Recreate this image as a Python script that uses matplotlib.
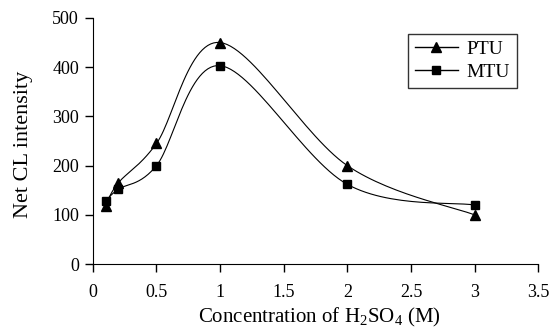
import numpy as np
import matplotlib
matplotlib.use("Agg")
import matplotlib.pyplot as plt
from matplotlib.lines import Line2D

plt.rcParams['font.family'] = ['Liberation Serif', 'DejaVu Serif']
plt.rcParams['mathtext.fontset'] = 'custom'
plt.rcParams['mathtext.rm'] = 'Liberation Serif'

conc = [0.1, 0.2, 0.5, 1.0, 2.0, 3.0]
ptu = [119, 165, 245, 450, 200, 100]
mtu = [128, 152, 200, 403, 162, 120]


def smooth(x, y, n=30):
    # excel-style smoothed line (catmull-rom bezier)
    x = np.asarray(x, float)
    y = np.asarray(y, float)
    px = np.concatenate([[x[0]], x, [x[-1]]])
    py = np.concatenate([[y[0]], y, [y[-1]]])
    xs, ys = [], []
    t = np.linspace(0, 1, n)
    for i in range(1, len(px) - 2):
        p0 = np.array([px[i], py[i]])
        p3 = np.array([px[i + 1], py[i + 1]])
        c1 = p0 + (np.array([px[i + 1], py[i + 1]]) - np.array([px[i - 1], py[i - 1]])) / 6
        c2 = p3 - (np.array([px[i + 2], py[i + 2]]) - np.array([px[i], py[i]])) / 6
        b = ((1 - t) ** 3)[:, None] * p0 + (3 * (1 - t) ** 2 * t)[:, None] * c1 \
            + (3 * (1 - t) * t ** 2)[:, None] * c2 + (t ** 3)[:, None] * p3
        xs.extend(b[:, 0])
        ys.extend(b[:, 1])
    return xs, ys


fig = plt.figure(figsize=(5.56, 3.31), dpi=100)
ax = fig.add_axes([0.167, 0.202, 0.801, 0.744])

sx, sy = smooth(conc, ptu)
ax.plot(sx, sy, color='black', lw=0.8)
ax.plot(conc, ptu, ls='none', marker='^', color='black', ms=7)
sx, sy = smooth(conc, mtu)
ax.plot(sx, sy, color='black', lw=0.8)
ax.plot(conc, mtu, ls='none', marker='s', color='black', ms=6)

ax.set_xlim(0, 3.5)
ax.set_ylim(0, 500)
ax.set_xticks([0, 0.5, 1, 1.5, 2, 2.5, 3, 3.5])
ax.set_xticklabels(['0', '0.5', '1', '1.5', '2', '2.5', '3', '3.5'])
ax.set_yticks([0, 100, 200, 300, 400, 500])
ax.spines['top'].set_visible(False)
ax.spines['right'].set_visible(False)
ax.tick_params(direction='out', length=6, width=1, labelsize=13)
ax.tick_params(axis='x', pad=8)
ax.tick_params(axis='y', pad=4)
ax.set_xlabel('Concentration of H$_2$SO$_4$ (M)', fontsize=15)
ax.set_ylabel('Net CL intensity', fontsize=16)
ax.xaxis.set_label_coords(0.508, -0.17)
ax.yaxis.set_label_coords(-0.135, 0.488)

handles = [Line2D([], [], color='black', lw=1, marker='^', ms=7),
           Line2D([], [], color='black', lw=1, marker='s', ms=6)]
leg = ax.legend(handles, ['PTU', 'MTU'], loc='upper left', bbox_to_anchor=(0.708, 0.935),
                frameon=True, fancybox=False, edgecolor='black', fontsize=14,
                handlelength=2.2, handletextpad=0.45, borderpad=0.35,
                labelspacing=0.25, borderaxespad=0)
leg.get_frame().set_linewidth(1)

fig.savefig('out.png', dpi=100)
